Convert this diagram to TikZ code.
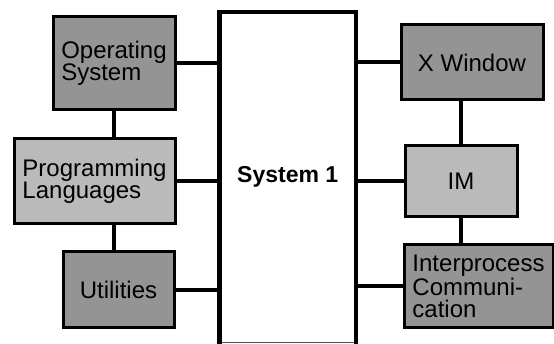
\documentclass[tikz,border=0pt]{standalone}
\usepackage{fontspec}
\setmainfont{Liberation Sans}
\tikzset{
  part/.style={draw=black, line width=3pt, inner sep=0pt, align=left,
    font=\fontsize{24}{22}\selectfont},
  darkpart/.style={part, fill=black!42},
  lightpart/.style={part, fill=black!27},
  link/.style={line width=4pt},
  sysline/.style={line width=4.5pt}
}
\begin{document}
\begin{tikzpicture}[x=1pt,y=-1pt]
\useasboundingbox (0,0) rectangle (554,344);
\fill[white] (0,0) rectangle (554,344);
% central system box
\node[inner sep=0pt, minimum width=136.5pt, minimum height=330pt,
      font=\fontsize{23}{25}\selectfont\bfseries] (sys) at (287.75,177) {System 1};
\draw[line width=1.2pt, black!70] (sys.south west) -- (sys.south east);
\draw[sysline] ([yshift=-2pt]sys.south west) -- (sys.north west) -- (sys.north east) -- ([yshift=-2pt]sys.south east);
% left boxes
\node[darkpart, minimum width=122pt, minimum height=93pt] (os) at (114,63.5) {Operating\\System};
\node[lightpart, minimum width=161pt, minimum height=85pt] (pl) at (94.5,181.5) {Programming\\Languages};
\node[darkpart, minimum width=111pt, minimum height=76pt] (ut) at (118.5,290) {Utilities};
% right boxes
\node[darkpart, minimum width=142pt, minimum height=75pt] (xw) at (472,62.5) {X Window};
\node[lightpart, minimum width=112pt, minimum height=71pt] (im) at (461,181.5) {IM};
\node[darkpart, minimum width=149pt, minimum height=83pt] (ipc) at (478.5,286.5) {Interprocess\\Communi-\\cation};
% horizontal links
\draw[link] (os.east) -- (os.east -| sys.west);
\draw[link] (pl.east) -- (pl.east -| sys.west);
\draw[link] (ut.east) -- (ut.east -| sys.west);
\draw[link] (xw.west) -- (xw.west -| sys.east);
\draw[link] (im.west) -- (im.west -| sys.east);
\draw[link] (ipc.west) -- (ipc.west -| sys.east);
% vertical links
\draw[link] (os.south) -- (os.south |- pl.north);
\draw[link] (os.south |- pl.south) -- (os.south |- ut.north);
\draw[link] (im.north |- xw.south) -- (im.north);
\draw[link] (im.south) -- (im.south |- ipc.north);
\end{tikzpicture}
\end{document}
